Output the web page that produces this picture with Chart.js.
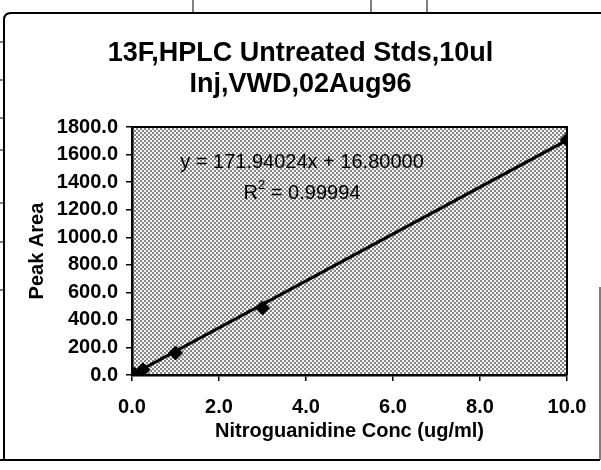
<!DOCTYPE html>
<html>
<head>
<meta charset="utf-8">
<title>Nitroguanidine calibration</title>
<script src="https://cdn.jsdelivr.net/npm/chart.js@4.4.1/dist/chart.umd.min.js"></script>
<style>
  html, body { margin: 0; padding: 0; background: #fff; }
  #wrap { width: 601px; height: 470px; position: relative; }
</style>
</head>
<body>
<div id="wrap"><canvas id="calChart" width="601" height="470"></canvas></div>
<script>
// standards: concentration (ug/ml) vs peak area
const concValues = [0.05, 0.25, 1.0, 3.0, 10.0];
const peakAreas = [6, 38, 160, 487, 1709];

// linear trendline end points
const trendConc = [0.0, 10.0];
const trendArea = [2, 1705];

const titleLines = ['13F,HPLC Untreated Stds,10ul', 'Inj,VWD,02Aug96'];
const xAxisTitle = 'Nitroguanidine Conc (ug/ml)';
const yAxisTitle = 'Peak Area';
const fitEquation = 'y = 171.94024x + 16.80000';
const fitR2 = '0.99994';

const FONT = "'Liberation Sans', Arial, sans-serif";

// dotted halftone fill for the plot area
function makeDotPattern(ctx) {
    const tile = document.createElement('canvas');
    tile.width = 4;
    tile.height = 4;
    const t = tile.getContext('2d');
    t.fillStyle = '#f4f4f4';
    t.fillRect(0, 0, 4, 4);
    t.fillStyle = '#858585';
    t.fillRect(0, 0, 2, 2);
    t.fillRect(2, 2, 2, 2);
    return ctx.createPattern(tile, 'repeat');
}

// page frame lines around the chart
const pageFrame = {
    id: 'pageFrame',
    afterLayout(chart) {
        // title sits a little right of the canvas centre
        if (chart.titleBlock) {
            chart.titleBlock.left += 13;
        }
    },
    beforeDraw(chart) {
        const ctx = chart.ctx;
        ctx.save();
        ctx.fillStyle = '#fff';
        ctx.fillRect(0, 0, chart.width, chart.height);
        ctx.strokeStyle = '#000';
        ctx.lineWidth = 2;
        ctx.beginPath();
        ctx.moveTo(4, 460);
        ctx.lineTo(4, 20);
        ctx.quadraticCurveTo(4, 13, 11, 13);
        ctx.lineTo(601, 13);
        ctx.moveTo(0, 460);
        ctx.lineTo(600, 460);
        ctx.stroke();
        ctx.lineWidth = 1;
        ctx.beginPath();
        ctx.moveTo(600, 287);
        ctx.lineTo(600, 460);
        [193, 371, 427].forEach(x => { ctx.moveTo(x, 0); ctx.lineTo(x, 12); });
        [42, 80, 118, 150, 203, 242, 290].forEach(y => { ctx.moveTo(0, y); ctx.lineTo(4, y); });
        ctx.stroke();

        // plot area fill
        const a = chart.chartArea;
        ctx.fillStyle = makeDotPattern(ctx);
        ctx.fillRect(a.left, a.top, a.right - a.left, a.bottom - a.top);
        ctx.restore();
    },
    afterDatasetsDraw(chart) {
        const ctx = chart.ctx;
        const a = chart.chartArea;
        ctx.save();
        ctx.strokeStyle = '#000';
        ctx.lineWidth = 2;
        ctx.beginPath();
        ctx.moveTo(a.left, a.top);
        ctx.lineTo(a.right, a.top);
        ctx.lineTo(a.right, a.bottom);
        ctx.stroke();

        // regression label
        ctx.fillStyle = '#000';
        ctx.textBaseline = 'middle';
        ctx.font = '20px ' + FONT;
        ctx.textAlign = 'center';
        ctx.fillText(fitEquation, 302, 162);
        const rPart = 'R';
        const rest = ' = ' + fitR2;
        const wR = ctx.measureText(rPart).width;
        const wRest = ctx.measureText(rest).width;
        ctx.font = '13px ' + FONT;
        const wSup = ctx.measureText('2').width;
        const x0 = 302 - (wR + wSup + wRest) / 2;
        ctx.textAlign = 'left';
        ctx.font = '20px ' + FONT;
        ctx.fillText(rPart, x0, 193);
        ctx.fillText(rest, x0 + wR + wSup, 193);
        ctx.font = '13px ' + FONT;
        ctx.fillText('2', x0 + wR, 185);
        ctx.restore();
    }
};

const ctx = document.getElementById('calChart').getContext('2d');
new Chart(ctx, {
    type: 'scatter',
    data: {
        datasets: [
            {
                label: 'Standards',
                data: concValues.map((c, i) => ({ x: c, y: peakAreas[i] })),
                pointStyle: 'rectRot',
                pointRadius: 7,
                backgroundColor: '#000',
                borderColor: '#000',
                borderWidth: 1,
                showLine: false,
                order: 1
            },
            {
                label: 'Linear fit',
                data: trendConc.map((c, i) => ({ x: c, y: trendArea[i] })),
                showLine: true,
                borderColor: '#000',
                borderWidth: 3,
                pointRadius: 0,
                order: 2
            }
        ]
    },
    options: {
        responsive: false,
        animation: false,
        devicePixelRatio: 1,
        layout: { padding: { left: 21, right: 34, top: 0, bottom: 23 } },
        plugins: {
            legend: { display: false },
            tooltip: { enabled: false },
            title: {
                display: true,
                text: titleLines,
                color: '#000',
                font: { family: FONT, size: 27, weight: 'bold', lineHeight: 1.15 },
                padding: { top: 38, bottom: 27 }
            }
        },
        scales: {
            x: {
                type: 'linear',
                min: 0,
                max: 10,
                afterFit(scale) { scale.height = 72; },
                ticks: {
                    stepSize: 2,
                    color: '#000',
                    padding: 14,
                    maxRotation: 0,
                    font: { family: FONT, size: 20, weight: 'bold' },
                    callback: v => v.toFixed(1)
                },
                grid: { drawOnChartArea: false, tickLength: 6, color: '#000', lineWidth: 1.5 },
                border: { color: '#000', width: 2.5 },
                title: {
                    display: true,
                    text: xAxisTitle,
                    color: '#000',
                    font: { family: FONT, size: 20, weight: 'bold' }
                }
            },
            y: {
                min: 0,
                max: 1800,
                afterFit(scale) { scale.width = 111; },
                ticks: {
                    stepSize: 200,
                    color: '#000',
                    padding: 8,
                    font: { family: FONT, size: 20, weight: 'bold' },
                    callback: v => v.toFixed(1)
                },
                grid: { drawOnChartArea: false, tickLength: 6, color: '#000', lineWidth: 1.5 },
                border: { color: '#000', width: 2.5 },
                title: {
                    display: true,
                    text: yAxisTitle,
                    color: '#000',
                    font: { family: FONT, size: 20, weight: 'bold' }
                }
            }
        }
    },
    plugins: [pageFrame]
});
</script>
</body>
</html>
